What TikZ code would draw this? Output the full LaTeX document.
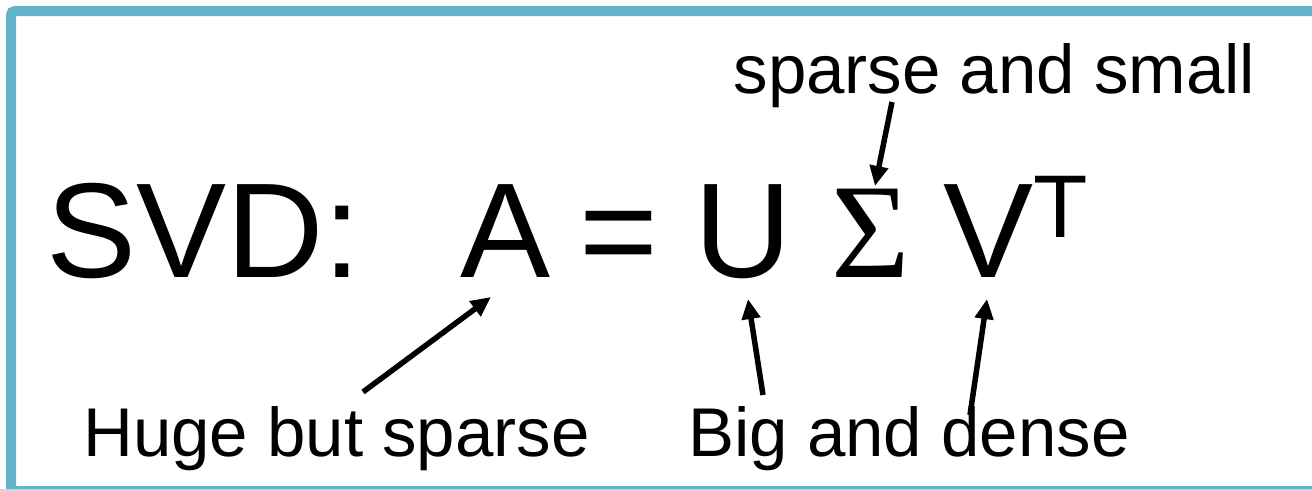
\documentclass[tikz,border=0pt]{standalone}
\usepackage{fontspec}
\setmainfont{Liberation Sans}
\newfontfamily\sigmafont{Liberation Serif}
\usetikzlibrary{arrows.meta}
\definecolor{framecol}{HTML}{62B4CB}
\begin{document}
\begin{tikzpicture}[x=1pt,y=-1pt,
  big/.style={inner sep=0pt, anchor=base, font=\fontsize{135}{140}\selectfont},
  sup/.style={inner sep=0pt, anchor=base, font=\fontsize{89}{95}\selectfont},
  lab/.style={inner sep=0pt, anchor=base, font=\fontsize{69}{75}\selectfont},
  ptr/.style={line width=5.5pt, -{Triangle[length=20pt,width=18pt]}}]
\useasboundingbox (0,0) rectangle (1312,488);
\clip (0,0) rectangle (1312,488);
\fill[white] (0,0) rectangle (1312,488);
\draw[framecol, line width=10pt, rounded corners=4pt] (11,11) rectangle (1400,491);

\node[big, anchor=base west] (svd) at (46,277) {SVD:};
\node[big] (A) at (505.5,277) {A};
\node[big] (eq) at (619,277) {=};
\node[big] (U) at (743,277) {U};
\node[big, font=\fontsize{135}{140}\sigmafont] (S) at (871,277) {Σ};
\node[big] (V) at (989,277) {V};
\node[sup] (T) at (1060.5,237) {T};

\node[lab] (small) at (994.5,93) {sparse and small};
\node[lab] (huge) at (336.5,456) {Huge but sparse};
\node[lab] (dense) at (909,456) {Big and dense};

\coordinate (ht) at (363,392);
\coordinate (hh) at (491,297);
\coordinate (st) at (892,102);
\coordinate (sh) at (875,186);
\coordinate (ut) at (763,395);
\coordinate (uh) at (748,299);
\coordinate (vt) at (970,415);
\coordinate (vh) at (987,299);

\draw[ptr] (ht) -- (hh);
\draw[ptr] (st) -- (sh);
\draw[ptr] (ut) -- (uh);
\draw[ptr] (vt) -- (vh);
\end{tikzpicture}
\end{document}
